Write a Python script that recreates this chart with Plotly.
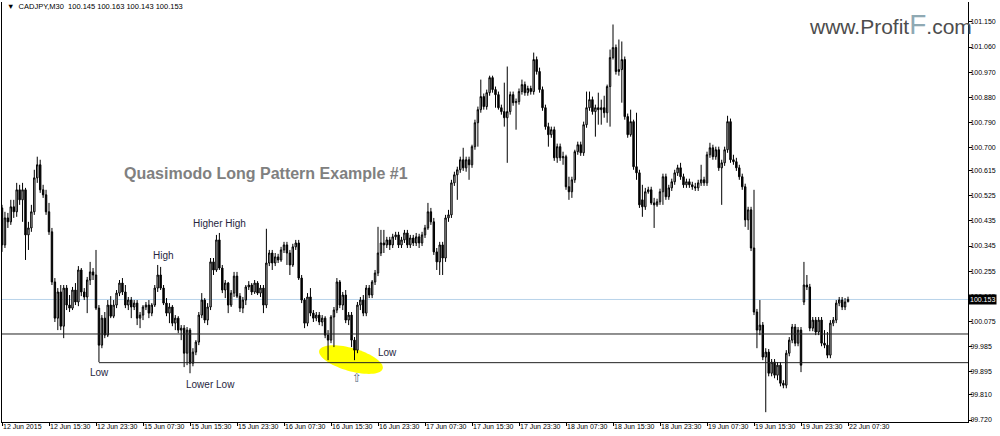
import math
import plotly.graph_objects as go

# ---------------- data (CADJPY, M30) ----------------
opens = [
    100.482, 100.349, 100.446, 100.432, 100.486, 100.468, 100.547, 100.511, 100.547, 100.385,
    100.410, 100.468, 100.590, 100.637, 100.547, 100.529, 100.468, 100.396, 100.216, 100.086,
    100.180, 100.057, 100.194, 100.133, 100.122, 100.187, 100.144, 100.259, 100.180, 100.162,
    100.223, 100.252, 100.241, 100.122, 99.989, 100.086, 100.025, 100.133, 100.093, 100.133,
    100.176, 100.212, 100.180, 100.133, 100.151, 100.126, 100.140, 100.086, 100.097, 100.126,
    100.133, 100.104, 100.133, 100.194, 100.241, 100.194, 100.140, 100.104, 100.126, 100.068,
    100.086, 100.043, 100.050, 99.960, 100.043, 99.924, 99.964, 100.000, 100.097, 100.151,
    100.079, 100.126, 100.288, 100.259, 100.367, 100.266, 100.187, 100.212, 100.133, 100.176,
    100.237, 100.165, 100.122, 100.151, 100.198, 100.205, 100.180, 100.212, 100.176, 100.194,
    100.133, 100.284, 100.320, 100.284, 100.306, 100.295, 100.331, 100.349, 100.320, 100.277,
    100.342, 100.356, 100.230, 100.151, 100.068, 100.162, 100.104, 100.086, 100.097, 100.072,
    100.086, 100.025, 100.007, 100.090, 100.115, 100.216, 100.133, 100.169, 100.079, 100.097,
    100.007, 99.971, 100.133, 100.151, 100.104, 100.194, 100.169, 100.216, 100.248, 100.320,
    100.356, 100.349, 100.367, 100.349, 100.378, 100.385, 100.349, 100.367, 100.392, 100.349,
    100.374, 100.356, 100.378, 100.356, 100.385, 100.410, 100.468, 100.432, 100.324, 100.288,
    100.349, 100.302, 100.446, 100.457, 100.572, 100.601, 100.619, 100.655, 100.626, 100.655,
    100.637, 100.702, 100.788, 100.835, 100.882, 100.846, 100.896, 100.950, 100.907, 100.889,
    100.842, 100.828, 100.806, 100.828, 100.889, 100.860, 100.864, 100.900, 100.925, 100.896,
    100.911, 100.900, 101.015, 100.972, 100.907, 100.842, 100.774, 100.745, 100.763, 100.662,
    100.702, 100.662, 100.666, 100.558, 100.540, 100.583, 100.684, 100.709, 100.680, 100.781,
    100.842, 100.871, 100.828, 100.842, 100.835, 100.842, 100.824, 100.918, 101.022, 101.058,
    100.972, 100.979, 101.015, 100.810, 100.745, 100.792, 100.630, 100.608, 100.511, 100.486,
    100.540, 100.547, 100.500, 100.493, 100.504, 100.540, 100.594, 100.522, 100.554, 100.576,
    100.608, 100.626, 100.594, 100.565, 100.576, 100.565, 100.558, 100.554, 100.572, 100.583,
    100.572, 100.673, 100.698, 100.666, 100.691, 100.626, 100.644, 100.691, 100.792, 100.655,
    100.648, 100.626, 100.594, 100.558, 100.439, 100.475, 100.338, 100.108, 100.043, 100.061,
    99.946, 99.964, 99.888, 99.928, 99.881, 99.917, 99.852, 99.845, 99.960, 100.007,
    100.054, 99.996, 100.043, 100.144, 100.205, 100.198, 100.050, 100.079, 100.036, 100.079,
    99.996, 99.989, 99.953, 100.068, 100.079, 100.140, 100.151, 100.126, 100.145,
]
highs = [
    100.493, 100.468, 100.464, 100.511, 100.511, 100.572, 100.565, 100.572, 100.554, 100.432,
    100.493, 100.619, 100.666, 100.655, 100.565, 100.547, 100.500, 100.410, 100.230, 100.194,
    100.205, 100.205, 100.205, 100.169, 100.198, 100.212, 100.273, 100.266, 100.194, 100.234,
    100.288, 100.266, 100.331, 100.133, 100.097, 100.108, 100.151, 100.165, 100.151, 100.187,
    100.223, 100.230, 100.205, 100.162, 100.162, 100.151, 100.151, 100.108, 100.133, 100.144,
    100.151, 100.140, 100.205, 100.277, 100.270, 100.205, 100.158, 100.140, 100.133, 100.097,
    100.093, 100.061, 100.061, 100.054, 100.050, 99.978, 100.007, 100.108, 100.176, 100.158,
    100.140, 100.302, 100.302, 100.385, 100.392, 100.277, 100.223, 100.216, 100.187, 100.252,
    100.252, 100.176, 100.162, 100.205, 100.219, 100.212, 100.223, 100.219, 100.205, 100.205,
    100.407, 100.331, 100.331, 100.320, 100.317, 100.342, 100.360, 100.360, 100.331, 100.353,
    100.367, 100.367, 100.241, 100.158, 100.176, 100.194, 100.115, 100.108, 100.108, 100.097,
    100.093, 100.043, 100.097, 100.126, 100.230, 100.223, 100.180, 100.187, 100.108, 100.108,
    100.018, 100.144, 100.162, 100.169, 100.205, 100.205, 100.223, 100.259, 100.414, 100.403,
    100.403, 100.378, 100.378, 100.389, 100.396, 100.396, 100.378, 100.403, 100.403, 100.385,
    100.385, 100.392, 100.389, 100.396, 100.421, 100.500, 100.482, 100.446, 100.338, 100.360,
    100.360, 100.457, 100.475, 100.583, 100.612, 100.630, 100.666, 100.698, 100.666, 100.666,
    100.709, 100.799, 100.846, 100.943, 100.893, 100.907, 100.957, 100.957, 100.918, 100.900,
    100.853, 100.932, 100.990, 100.900, 100.900, 100.875, 100.911, 100.943, 100.936, 100.921,
    100.921, 101.040, 101.026, 100.986, 100.918, 100.853, 100.788, 100.774, 100.774, 100.713,
    100.713, 100.684, 100.673, 100.594, 100.594, 100.691, 100.720, 100.720, 100.792, 100.900,
    100.900, 100.882, 100.853, 100.896, 100.871, 100.885, 100.925, 101.051, 101.141, 101.069,
    101.087, 101.080, 101.026, 100.821, 100.835, 100.799, 100.824, 100.619, 100.565, 100.554,
    100.558, 100.558, 100.518, 100.515, 100.551, 100.605, 100.605, 100.565, 100.587, 100.619,
    100.637, 100.644, 100.605, 100.587, 100.587, 100.576, 100.572, 100.583, 100.637, 100.594,
    100.684, 100.716, 100.709, 100.702, 100.702, 100.655, 100.702, 100.813, 100.803, 100.673,
    100.662, 100.637, 100.605, 100.569, 100.486, 100.486, 100.547, 100.119, 100.151, 100.072,
    99.978, 99.975, 99.939, 99.939, 99.928, 99.928, 99.863, 99.971, 100.018, 100.065,
    100.065, 100.054, 100.054, 100.288, 100.241, 100.209, 100.090, 100.090, 100.090, 100.090,
    100.043, 100.036, 100.079, 100.090, 100.151, 100.162, 100.162, 100.158, 100.163,
]
lows = [
    100.324, 100.338, 100.410, 100.421, 100.446, 100.450, 100.493, 100.432, 100.295, 100.331,
    100.396, 100.457, 100.572, 100.536, 100.518, 100.457, 100.385, 100.205, 100.072, 100.043,
    100.043, 100.014, 100.115, 100.108, 100.115, 100.133, 100.129, 100.165, 100.151, 100.104,
    100.205, 100.223, 100.115, 99.928, 99.978, 100.014, 100.018, 100.086, 100.086, 100.122,
    100.165, 100.169, 100.122, 100.115, 100.086, 100.115, 100.061, 100.050, 100.079, 100.115,
    100.086, 100.093, 100.126, 100.180, 100.187, 100.133, 100.093, 100.068, 100.057, 100.043,
    100.032, 100.007, 99.910, 99.917, 99.888, 99.913, 99.953, 99.989, 100.086, 100.068,
    100.061, 100.115, 100.241, 100.252, 100.259, 100.176, 100.158, 100.104, 100.126, 100.162,
    100.158, 100.108, 100.104, 100.133, 100.187, 100.169, 100.173, 100.169, 100.162, 100.104,
    100.122, 100.273, 100.259, 100.273, 100.284, 100.288, 100.320, 100.277, 100.241, 100.270,
    100.331, 100.223, 100.140, 100.050, 100.057, 100.093, 100.072, 100.075, 100.061, 100.057,
    100.014, 99.935, 99.996, 99.982, 100.104, 100.122, 100.115, 100.068, 100.061, 99.982,
    99.935, 99.960, 100.115, 100.093, 100.093, 100.158, 100.158, 100.205, 100.237, 100.309,
    100.320, 100.338, 100.331, 100.338, 100.367, 100.338, 100.338, 100.356, 100.338, 100.338,
    100.345, 100.345, 100.338, 100.345, 100.374, 100.403, 100.421, 100.313, 100.259, 100.241,
    100.241, 100.288, 100.432, 100.446, 100.561, 100.511, 100.608, 100.615, 100.612, 100.583,
    100.626, 100.691, 100.702, 100.824, 100.835, 100.835, 100.885, 100.896, 100.842, 100.835,
    100.817, 100.774, 100.644, 100.817, 100.849, 100.763, 100.853, 100.889, 100.885, 100.885,
    100.889, 100.889, 100.961, 100.896, 100.831, 100.763, 100.702, 100.734, 100.651, 100.644,
    100.651, 100.637, 100.547, 100.511, 100.518, 100.572, 100.673, 100.669, 100.669, 100.770,
    100.831, 100.817, 100.738, 100.781, 100.781, 100.806, 100.788, 100.774, 101.015, 100.961,
    100.957, 100.860, 100.799, 100.734, 100.738, 100.619, 100.583, 100.482, 100.450, 100.475,
    100.533, 100.493, 100.410, 100.486, 100.493, 100.493, 100.511, 100.511, 100.543, 100.565,
    100.597, 100.583, 100.554, 100.554, 100.554, 100.547, 100.543, 100.543, 100.561, 100.561,
    100.561, 100.662, 100.655, 100.655, 100.615, 100.493, 100.633, 100.680, 100.644, 100.637,
    100.615, 100.583, 100.547, 100.414, 100.403, 100.327, 100.097, 99.978, 100.025, 99.935,
    99.748, 99.877, 99.877, 99.870, 99.863, 99.841, 99.834, 99.834, 99.949, 99.996,
    99.985, 99.985, 99.892, 100.133, 100.187, 100.039, 100.039, 100.025, 100.025, 99.985,
    99.978, 99.942, 99.942, 100.057, 100.068, 100.129, 100.115, 100.115, 100.143,
]
closes = [
    100.349, 100.446, 100.432, 100.486, 100.468, 100.547, 100.511, 100.547, 100.385, 100.410,
    100.468, 100.590, 100.637, 100.547, 100.529, 100.468, 100.396, 100.216, 100.086, 100.180,
    100.057, 100.194, 100.133, 100.122, 100.187, 100.144, 100.259, 100.180, 100.162, 100.223,
    100.252, 100.241, 100.122, 99.989, 100.086, 100.025, 100.133, 100.093, 100.133, 100.176,
    100.212, 100.180, 100.133, 100.151, 100.126, 100.140, 100.086, 100.097, 100.126, 100.133,
    100.104, 100.133, 100.194, 100.241, 100.194, 100.140, 100.104, 100.126, 100.068, 100.086,
    100.043, 100.050, 99.960, 100.043, 99.924, 99.964, 100.000, 100.097, 100.151, 100.079,
    100.126, 100.288, 100.259, 100.367, 100.266, 100.187, 100.212, 100.133, 100.176, 100.237,
    100.165, 100.122, 100.151, 100.198, 100.205, 100.180, 100.212, 100.176, 100.194, 100.133,
    100.284, 100.320, 100.284, 100.306, 100.295, 100.331, 100.349, 100.320, 100.277, 100.342,
    100.356, 100.230, 100.151, 100.068, 100.162, 100.104, 100.086, 100.097, 100.072, 100.086,
    100.025, 100.007, 100.090, 100.115, 100.216, 100.133, 100.169, 100.079, 100.097, 100.007,
    99.971, 100.133, 100.151, 100.104, 100.194, 100.169, 100.216, 100.248, 100.320, 100.356,
    100.349, 100.367, 100.349, 100.378, 100.385, 100.349, 100.367, 100.392, 100.349, 100.374,
    100.356, 100.378, 100.356, 100.385, 100.410, 100.468, 100.432, 100.324, 100.288, 100.349,
    100.302, 100.446, 100.457, 100.572, 100.601, 100.619, 100.655, 100.626, 100.655, 100.637,
    100.702, 100.788, 100.835, 100.882, 100.846, 100.896, 100.950, 100.907, 100.889, 100.842,
    100.828, 100.806, 100.828, 100.889, 100.860, 100.864, 100.900, 100.925, 100.896, 100.911,
    100.900, 101.015, 100.972, 100.907, 100.842, 100.774, 100.745, 100.763, 100.662, 100.702,
    100.662, 100.666, 100.558, 100.540, 100.583, 100.684, 100.709, 100.680, 100.781, 100.842,
    100.871, 100.828, 100.842, 100.835, 100.842, 100.824, 100.918, 101.022, 101.058, 100.972,
    100.979, 101.015, 100.810, 100.745, 100.792, 100.630, 100.608, 100.493, 100.486, 100.540,
    100.547, 100.500, 100.493, 100.504, 100.540, 100.594, 100.522, 100.554, 100.576, 100.608,
    100.626, 100.594, 100.565, 100.576, 100.565, 100.558, 100.554, 100.572, 100.583, 100.572,
    100.673, 100.698, 100.666, 100.691, 100.626, 100.644, 100.691, 100.792, 100.655, 100.648,
    100.626, 100.594, 100.558, 100.439, 100.475, 100.338, 100.108, 100.043, 100.061, 99.946,
    99.964, 99.888, 99.928, 99.881, 99.917, 99.852, 99.845, 99.960, 100.007, 100.054,
    99.996, 100.043, 99.917, 100.205, 100.198, 100.050, 100.079, 100.036, 100.079, 99.996,
    99.989, 99.953, 100.068, 100.079, 100.140, 100.151, 100.126, 100.144, 100.153,
]

time_labels = ["12 Jun 2015", "12 Jun 15:30", "12 Jun 23:30", "15 Jun 07:30", "15 Jun 15:30",
               "15 Jun 23:30", "16 Jun 07:30", "16 Jun 15:30", "16 Jun 23:30", "17 Jun 07:30",
               "17 Jun 15:30", "17 Jun 23:30", "18 Jun 07:30", "18 Jun 15:30", "18 Jun 23:30",
               "19 Jun 07:30", "19 Jun 15:30", "19 Jun 23:30", "22 Jun 07:30"]
bars_per_label = 16

price_ticks = [101.150, 101.060, 100.970, 100.880, 100.790, 100.700, 100.615, 100.525,
               100.435, 100.345, 100.255, 100.165, 100.075, 99.985, 99.895, 99.810, 99.720]

bid_price = 100.153
upper_level = 100.029
lower_level = 99.926
lower_level_start_bar = 33

assert len(opens) == len(highs) == len(lows) == len(closes) == 289

# ---------------- layout geometry ----------------
W, H = 1000, 436
ML, MR, MT, MB = 2, 32, 2, 14
PW, PH = W - ML - MR, H - MT - MB
BAR_PX = 47 / 16.0
X_MAX = PW / BAR_PX
Y_TOP, Y_BOT = 101.2218, 99.7128
PX_PER_PRICE = PH / (Y_TOP - Y_BOT)

def px(xp):   # pixel x -> paper
    return (xp - ML) / PW

def py(yp):   # pixel y -> paper
    return 1 - (yp - MT) / PH

xs = list(range(len(closes)))
FONT = "Liberation Sans, Arial, sans-serif"

fig = go.Figure()
fig.add_trace(go.Candlestick(
    x=xs, open=opens, high=highs, low=lows, close=closes,
    increasing=dict(line=dict(color="#000000", width=1), fillcolor="#cfcfcf"),
    decreasing=dict(line=dict(color="#000000", width=1), fillcolor="#000000"),
    whiskerwidth=0, hoverinfo="skip", showlegend=False,
))

# yellow tilted ellipse highlighting the second low
cx, cy = 118.8, 99.937
a_px, b_px, ang = 33.0, 11.5, math.radians(16)
pts = []
for k in range(0, 73):
    t = 2 * math.pi * k / 72
    dx = a_px * math.cos(t) * math.cos(ang) - b_px * math.sin(t) * math.sin(ang)
    dy = a_px * math.cos(t) * math.sin(ang) + b_px * math.sin(t) * math.cos(ang)
    pts.append((cx + dx / BAR_PX, cy - dy / PX_PER_PRICE))
path = "M " + " L ".join(f"{x:.4f},{y:.5f}" for x, y in pts) + " Z"

shapes = [
    dict(type="path", path=path, xref="x", yref="y", fillcolor="#ffff00",
         line=dict(width=0), layer="below"),
    dict(type="line", xref="paper", x0=0, x1=1, yref="y", y0=bid_price, y1=bid_price,
         line=dict(color="#b9d3ea", width=1), layer="below"),
    dict(type="line", xref="paper", x0=0, x1=1, yref="y", y0=upper_level, y1=upper_level,
         line=dict(color="#222222", width=1)),
    dict(type="line", xref="x", x0=lower_level_start_bar, x1=X_MAX, yref="y",
         y0=lower_level, y1=lower_level, line=dict(color="#222222", width=1)),
]

lab_font = dict(family=FONT, size=10, color="#26263e")

def label(xp, yp, text, font=lab_font):
    return dict(x=px(xp), y=py(yp), xref="paper", yref="paper", xanchor="center",
                yanchor="middle", text=text, showarrow=False, font=font)

annotations = [
    dict(x=px(5), y=py(7), xref="paper", yref="paper", xanchor="left", yanchor="middle",
         text="\u25bc  CADJPY,M30  100.145 100.163 100.143 100.153", showarrow=False,
         font=dict(family=FONT, size=7.5, color="#000000")),
    dict(x=px(807), y=py(24), xref="paper", yref="paper", xanchor="left", yanchor="middle",
         text="www.Profit<span style='color:#8fa9b3;font-size:28px'>F</span>.com",
         showarrow=False, font=dict(family=FONT, size=21, color="#4d4d4d")),
    label(266, 173, "<b>Quasimodo Long Pattern Example #1</b>",
          dict(family=FONT, size=16, color="#808080")),
    label(163, 256, "High"),
    label(219, 223, "Higher High"),
    label(99, 372, "Low"),
    label(210, 384, "Lower Low"),
    label(387, 352, "Low"),
    label(357, 378, "\u21e7", dict(family="DejaVu Sans", size=12, color="#556a80")),
    dict(x=1, y=bid_price, xref="paper", yref="y", xanchor="left", yanchor="middle", xshift=0,
         text="100.153", showarrow=False, bgcolor="#000000", borderpad=1,
         font=dict(family=FONT, size=7, color="#ffffff")),
]

fig.update_layout(
    width=W, height=H,
    margin=dict(l=ML, r=MR, t=MT, b=MB, autoexpand=False),
    paper_bgcolor="#ffffff", plot_bgcolor="#ffffff",
    shapes=shapes, annotations=annotations, showlegend=False,
    xaxis=dict(
        range=[0, X_MAX], rangeslider=dict(visible=False), automargin=False,
        tickvals=[i * bars_per_label for i in range(len(time_labels))], ticktext=time_labels,
        ticks="outside", ticklen=3, tickcolor="#000000", ticklabelposition="outside right",
        tickangle=0, ticklabelstandoff=-2,
        showgrid=False, zeroline=False, showline=True, linecolor="#000000", linewidth=1,
        mirror=False,
        tickfont=dict(family=FONT, size=7, color="#000000"),
    ),
    yaxis=dict(
        range=[Y_BOT, Y_TOP], side="right", automargin=False,
        tickvals=price_ticks, ticktext=[f"{v:.3f}" for v in price_ticks],
        ticks="outside", ticklen=3, tickcolor="#000000", ticklabelstandoff=-3,
        showgrid=False, zeroline=False, showline=True, linecolor="#000000", linewidth=1,
        mirror=True,
        tickfont=dict(family=FONT, size=7, color="#000000"),
    ),
)

fig.write_html(
    "out.html",
    config={"displayModeBar": False},
    post_script="document.body.style.margin='0px';document.body.style.overflow='hidden';",
)
